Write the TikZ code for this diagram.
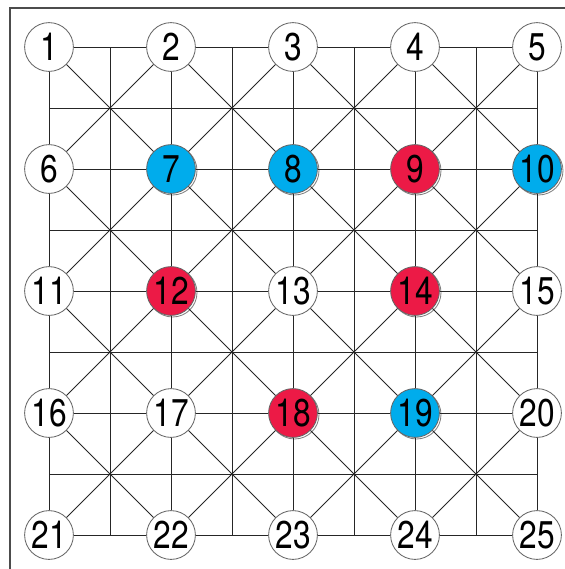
\documentclass[tikz,border=0pt]{standalone}
\usepackage{fontspec}
\setmainfont{TeX Gyre Heros}
\newfontfamily\ballfont{TeX Gyre Heros}[FakeStretch=0.82]
\usetikzlibrary{calc, shadows}

\definecolor{ballBlue}{RGB}{0,172,236}
\definecolor{ballRed}{RGB}{236,26,70}

\begin{document}
\begin{tikzpicture}[
    % circles of the board
    ball/.style={circle, draw=black!60, line width=0.6pt, fill=white, minimum size=1.22cm, inner sep=0pt,
                 font=\ballfont\fontsize{27.5}{27.5}\selectfont},
    blueball/.style={ball, fill=ballBlue, drop shadow={shadow xshift=0.04cm, shadow yshift=-0.04cm, fill=white, draw=black!50, opacity=1}},
    redball/.style={ball, fill=ballRed, drop shadow={shadow xshift=0.04cm, shadow yshift=-0.04cm, fill=white, draw=black!50, opacity=1}},
    % board lines
    link/.style={line width=0.65pt, color=black!85},
    frame/.style={line width=0.9pt, color=black!70},
]

% ==================== 1. page size and grid step ====================
\useasboundingbox (-1.225,-13.05) rectangle (12.9,1.175);
\def\s{3.05}

\draw[frame] (-0.975,-13.05) -- (-0.975,0.975) -- (12.9,0.975);

% ==================== 2. circles, row by row ====================
\node[ball]     (n1)  at (0*\s, 0*\s)  {1};
\node[ball]     (n2)  at (1*\s, 0*\s)  {2};
\node[ball]     (n3)  at (2*\s, 0*\s)  {3};
\node[ball]     (n4)  at (3*\s, 0*\s)  {4};
\node[ball]     (n5)  at (4*\s, 0*\s)  {5};

\node[ball]     (n6)  at (0*\s, -1*\s) {6};
\node[blueball] (n7)  at (1*\s, -1*\s) {7};
\node[blueball] (n8)  at (2*\s, -1*\s) {8};
\node[redball]  (n9)  at (3*\s, -1*\s) {9};
\node[blueball] (n10) at (4*\s, -1*\s) {10};

\node[ball]     (n11) at (0*\s, -2*\s) {11};
\node[redball]  (n12) at (1*\s, -2*\s) {12};
\node[ball]     (n13) at (2*\s, -2*\s) {13};
\node[redball]  (n14) at (3*\s, -2*\s) {14};
\node[ball]     (n15) at (4*\s, -2*\s) {15};

\node[ball]     (n16) at (0*\s, -3*\s) {16};
\node[ball]     (n17) at (1*\s, -3*\s) {17};
\node[redball]  (n18) at (2*\s, -3*\s) {18};
\node[blueball] (n19) at (3*\s, -3*\s) {19};
\node[ball]     (n20) at (4*\s, -3*\s) {20};

\node[ball]     (n21) at (0*\s, -4*\s) {21};
\node[ball]     (n22) at (1*\s, -4*\s) {22};
\node[ball]     (n23) at (2*\s, -4*\s) {23};
\node[ball]     (n24) at (3*\s, -4*\s) {24};
\node[ball]     (n25) at (4*\s, -4*\s) {25};

% ==================== 3. links between circles ====================
% rows
\foreach \r in {0,...,4}
  \foreach \c in {1,...,4} {
    \pgfmathtruncatemacro\a{5*\r+\c}
    \pgfmathtruncatemacro\b{\a+1}
    \draw[link] (n\a) -- (n\b);
  }
% columns
\foreach \a in {1,...,20} {
  \pgfmathtruncatemacro\b{\a+5}
  \draw[link] (n\a) -- (n\b);
}
% both diagonals of every cell
\foreach \r in {0,...,3}
  \foreach \c in {1,...,4} {
    \pgfmathtruncatemacro\a{5*\r+\c}
    \pgfmathtruncatemacro\b{\a+6}
    \pgfmathtruncatemacro\p{\a+1}
    \pgfmathtruncatemacro\q{\a+5}
    \draw[link] (n\a) -- (n\b);
    \draw[link] (n\p) -- (n\q);
  }

% ==================== 4. half-step lines ====================
\foreach \k in {1,...,4} {
  % horizontal, between row k and row k+1
  \pgfmathtruncatemacro\a{5*\k-4}
  \pgfmathtruncatemacro\b{\a+5}
  \pgfmathtruncatemacro\c{5*\k}
  \pgfmathtruncatemacro\d{\c+5}
  \draw[link] ($(n\a)!0.5!(n\b)$) -- ($(n\c)!0.5!(n\d)$);
  % vertical, between column k and column k+1
  \pgfmathtruncatemacro\e{\k+1}
  \pgfmathtruncatemacro\f{\k+20}
  \pgfmathtruncatemacro\g{\k+21}
  \draw[link] ($(n\k)!0.5!(n\e)$) -- ($(n\f)!0.5!(n\g)$);
}

\end{tikzpicture}
\end{document}
